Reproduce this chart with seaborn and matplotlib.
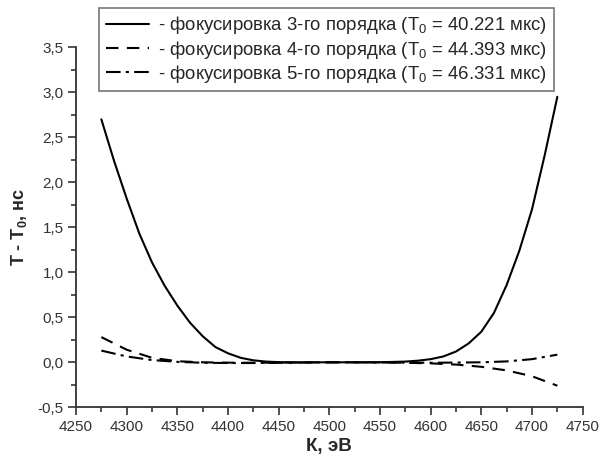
import matplotlib
matplotlib.use("Agg")
import matplotlib.pyplot as plt
import seaborn as sns
from matplotlib.ticker import MultipleLocator, FuncFormatter

# Energy grid for the 3rd-order curve (eV)
x3 = [4275, 4287.5, 4300, 4312.5, 4325, 4337.5, 4350, 4362.5, 4375, 4387.5,
      4400, 4412.5, 4425, 4437.5, 4450, 4462.5, 4475, 4487.5, 4500, 4512.5,
      4525, 4537.5, 4550, 4562.5, 4575, 4587.5, 4600, 4612.5, 4625, 4637.5,
      4650, 4662.5, 4675, 4687.5, 4700, 4712.5, 4725]
t3 = [2.70, 2.24, 1.82, 1.43, 1.11, 0.85, 0.63, 0.44, 0.29, 0.17,
      0.10, 0.05, 0.022, 0.008, 0.002, 0.0, 0.0, 0.0, 0.0, 0.0,
      0.0, 0.0, 0.001, 0.004, 0.008, 0.018, 0.035, 0.065, 0.12, 0.21,
      0.34, 0.55, 0.86, 1.24, 1.70, 2.30, 2.95]

# Energy grid for the 4th/5th-order curves (eV)
x45 = [4275, 4300, 4325, 4350, 4375, 4400, 4425, 4450, 4475, 4500,
       4525, 4550, 4575, 4600, 4625, 4650, 4675, 4700, 4725]
t4 = [0.28, 0.14, 0.05, 0.012, 0.0, -0.004, -0.005, -0.004, -0.002, 0.0,
      0.0, -0.001, -0.005, -0.012, -0.025, -0.05, -0.09, -0.155, -0.26]
t5 = [0.13, 0.065, 0.025, 0.005, -0.005, -0.008, -0.008, -0.006, -0.003, 0.0,
      0.0, -0.002, -0.004, -0.005, -0.003, 0.0, 0.01, 0.035, 0.085]

labels = [
    r"- фокусировка 3-го порядка (T$_\mathregular{0}$ = 40.221 мкс)",
    r"- фокусировка 4-го порядка (T$_\mathregular{0}$ = 44.393 мкс)",
    r"- фокусировка 5-го порядка (T$_\mathregular{0}$ = 46.331 мкс)",
]
xlabel = "К, эВ"
ylabel = r"T - T$_\mathbf{0}$, нс"

sns.set_theme(style="ticks")
plt.rcParams["font.family"] = ["Liberation Sans", "DejaVu Sans"]
plt.rcParams["mathtext.fontset"] = "custom"
plt.rcParams["mathtext.rm"] = "Liberation Sans"
plt.rcParams["mathtext.bf"] = "Liberation Sans:bold"
plt.rcParams["mathtext.it"] = "Liberation Sans:italic"

fig = plt.figure(figsize=(6.10, 4.63), dpi=100)
ax = fig.add_axes([0.1246, 0.1203, 0.8306, 0.7775])

sns.lineplot(x=x3, y=t3, ax=ax, color="black", linewidth=1.5, label=labels[0])
sns.lineplot(x=x45, y=t4, ax=ax, color="black", linewidth=1.5,
             linestyle=(0, (6, 4)), label=labels[1])
sns.lineplot(x=x45, y=t5, ax=ax, color="black", linewidth=1.5,
             linestyle=(0, (7, 2.5, 1.5, 2.5)), label=labels[2])

ax.set_xlim(4250, 4750)
ax.set_ylim(-0.5, 3.5)
ax.xaxis.set_major_locator(MultipleLocator(50))
ax.xaxis.set_minor_locator(MultipleLocator(25))
ax.yaxis.set_major_locator(MultipleLocator(0.5))
ax.yaxis.set_minor_locator(MultipleLocator(0.25))
ax.yaxis.set_major_formatter(FuncFormatter(lambda v, p: f"{v:.1f}".replace(".", ",")))

sns.despine(ax=ax)
for s in ("left", "bottom"):
    ax.spines[s].set_color("#333333")
    ax.spines[s].set_linewidth(1.3)
ax.tick_params(which="major", direction="out", length=6, width=1.2,
               color="#333333", labelsize=11, labelcolor="#333333", pad=3)
ax.tick_params(which="minor", direction="out", length=3.5, width=1.2,
               color="#333333")

ax.set_xlabel(xlabel, fontsize=13.5, fontweight="bold", labelpad=3)
ax.set_ylabel(ylabel, fontsize=13, fontweight="bold", labelpad=6)

ax.get_legend().remove()
handles, _ = ax.get_legend_handles_labels()
leg = fig.legend(handles, labels, loc="upper left", bbox_to_anchor=(0.163, 0.983),
                 fontsize=13.4, frameon=True, fancybox=False, handlelength=2.3,
                 handletextpad=0.5, labelspacing=0.12, borderpad=0.35,
                 borderaxespad=0)
leg.get_frame().set_edgecolor("#555555")
leg.get_frame().set_linewidth(1.2)

fig.savefig("out.png", dpi=100)
